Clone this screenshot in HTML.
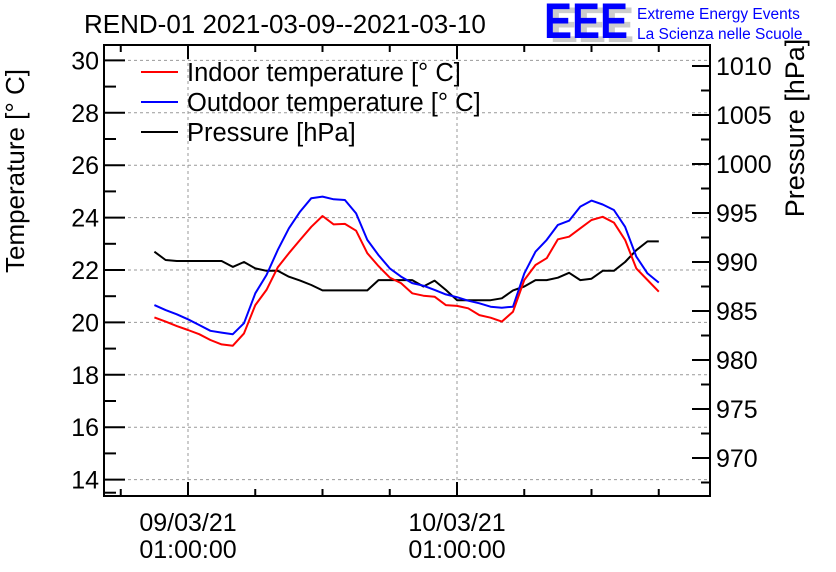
<!DOCTYPE html>
<html><head><meta charset="utf-8"><style>
body{margin:0;background:#fff;}
svg{display:block;font-family:"Liberation Sans",sans-serif;}
</style></head><body>
<svg id="chart" width="836" height="572" viewBox="0 0 836 572" xmlns="http://www.w3.org/2000/svg">
<text x="84" y="33" font-size="26">REND-01 2021-03-09--2021-03-10</text>
<g>
<text x="550" y="42" font-size="50" font-weight="bold" fill="#ccc" textLength="84" lengthAdjust="spacingAndGlyphs">EEE</text>
<text x="544" y="38" font-size="50" font-weight="bold" fill="#0000ff" textLength="84" lengthAdjust="spacingAndGlyphs">EEE</text>
<text x="637" y="19" font-size="15.5" fill="#0000ff">Extreme Energy Events</text>
<text x="637" y="39" font-size="15.5" fill="#0000ff">La Scienza nelle Scuole</text>
</g>
<text transform="translate(24,171) rotate(-90)" text-anchor="middle" font-size="26">Temperature [° C]</text>
<text transform="translate(804,128) rotate(-90)" text-anchor="middle" font-size="27">Pressure [hPa]</text>
<g id="grid"></g>
<g id="axes"></g>
<g id="series"></g>
<g>
<g><line x1="141" y1="72" x2="178" y2="72" stroke="#ff0000" stroke-width="2"/><text x="187" y="81" font-size="25.5">Indoor temperature [° C]</text></g>
<g><line x1="141" y1="102" x2="178" y2="102" stroke="#0000ff" stroke-width="2"/><text x="187" y="111" font-size="25.5">Outdoor temperature [° C]</text></g>
<g><line x1="141" y1="132" x2="178" y2="132" stroke="#000" stroke-width="2"/><text x="187" y="141" font-size="25.5">Pressure [hPa]</text></g>
</g>
</svg>
<script>
const hours = [-2,-1,0,1,2,3,4,5,6,7,8,9,10,11,12,13,14,15,16,17,18,19,20,21,22,23,24,25,26,27,28,29,30,31,32,33,34,35,36,37,38,39,40,41,42,43];
const indoor = [20.19,20.03,19.86,19.71,19.55,19.33,19.16,19.11,19.58,20.66,21.24,22.10,22.64,23.15,23.65,24.06,23.74,23.76,23.5,22.64,22.15,21.71,21.5,21.11,21.02,20.98,20.66,20.63,20.54,20.28,20.18,20.03,20.41,21.62,22.19,22.45,23.17,23.27,23.59,23.91,24.03,23.81,23.15,22.06,21.62,21.17];
const outdoor = [20.66,20.47,20.31,20.12,19.90,19.68,19.61,19.55,19.97,21.11,21.81,22.76,23.59,24.23,24.74,24.80,24.70,24.67,24.16,23.15,22.57,22.06,21.75,21.5,21.4,21.24,21.07,20.96,20.83,20.73,20.60,20.56,20.60,21.87,22.70,23.15,23.72,23.88,24.42,24.65,24.5,24.29,23.65,22.51,21.87,21.52];
const pressure = [991.05,990.2,990.1,990.1,990.1,990.1,990.1,989.5,990.0,989.35,989.1,989.1,988.5,988.1,987.65,987.1,987.1,987.1,987.1,987.1,988.15,988.15,988.15,988.15,987.5,988.1,987.15,986.1,986.1,986.1,986.1,986.3,987.1,987.5,988.15,988.15,988.4,988.9,988.15,988.3,989.1,989.1,990.0,991.2,992.1,992.1];
const tempTicks = [14,16,18,20,22,24,26,28,30];
const presTicks = [970,975,980,985,990,995,1000,1005,1010];
const xTickLabels = [["09/03/21","01:00:00"],["10/03/21","01:00:00"]];
const xMajorHours = [1,25];

const L=104,R=710,T=45,B=496;
const sx = h => 188 + (h-1)*269/24;
const sy = t => 270 - (t-22)*26.2;
const sp = p => 262 - (p-990)*9.8;
const NS="http://www.w3.org/2000/svg";
function mk(tag, attrs, parent){const e=document.createElementNS(NS,tag);for(const k in attrs)e.setAttribute(k,attrs[k]);parent.appendChild(e);return e;}
const grid=document.getElementById('grid'), axes=document.getElementById('axes'), series=document.getElementById('series');

tempTicks.forEach(t=>{const y=sy(t);
 const g=mk('line',{x1:L,x2:R,y1:y,y2:y,stroke:'#999','stroke-dasharray':'3,3','stroke-width':1},grid);
 
 
 const tk=mk('line',{x1:L,x2:L+21,y1:y,y2:y,stroke:'#000','stroke-width':2},axes);
 
 
 const tx=mk('text',{x:L-5,y:y+9,'text-anchor':'end','font-size':25},axes);
 
 
 tx.textContent=t;
});
for(let t=15;t<=30.5;t+=2){ const y=sy(t);
 const tk=mk('line',{x1:L,x2:L+12,y1:y,y2:y,stroke:'#000','stroke-width':2},axes);
 
 
}
{const tk=mk('line',{x1:L,x2:L+12,y1:sy(13.5),y2:sy(13.5),stroke:'#000','stroke-width':2},axes);
 
 }
presTicks.forEach(p=>{const y=sp(p);
 const tk=mk('line',{x1:R-18,x2:R,y1:y,y2:y,stroke:'#000','stroke-width':2},axes);
 
 
 const tx=mk('text',{x:R+6,y:y+9,'font-size':25},axes);
 
 
 tx.textContent=p;
});
for(let p=967.5;p<=1010;p+=5){const y=sp(p);
 const tk=mk('line',{x1:R-9,x2:R,y1:y,y2:y,stroke:'#000','stroke-width':2},axes);
 
 
}
xMajorHours.forEach((h,i)=>{const x=sx(h);
 const g=mk('line',{x1:x,x2:x,y1:T,y2:B,stroke:'#999','stroke-dasharray':'3,3','stroke-width':1},grid);
 
 
 const tx=mk('text',{x:x,y:531,'text-anchor':'middle','font-size':25},axes);
 
 
 tx.textContent=xTickLabels[i][0];
 const tx2=mk('text',{x:x,y:558,'text-anchor':'middle','font-size':25},axes);
 
 
 tx2.textContent=xTickLabels[i][1];
});
for(let h=-5;h<=47;h+=6){const x=sx(h); if(x<L||x>R) continue; const major=xMajorHours.includes(h);
 const len=major?14:7;
 const tk=mk('line',{x1:x,x2:x,y1:B,y2:B-len,stroke:'#000','stroke-width':2},axes);
 
 
 const tt=mk('line',{x1:x,x2:x,y1:T,y2:T+len,stroke:'#000','stroke-width':2},axes);
 
 
}
const frame=mk('rect',{x:L,y:T,width:R-L,height:B-T,fill:'none',stroke:'#000','stroke-width':2},axes);



function line(vals, f, color, name){
 const d=vals.map((v,i)=>(i?'L':'M')+sx(hours[i]).toFixed(1)+','+f(v).toFixed(1)).join('');
 const p=mk('path',{d:d,fill:'none',stroke:color,'stroke-width':2,'stroke-linejoin':'round'},series);
 
 
}
line(pressure, sp, '#000', 'pressure-line');
line(outdoor, sy, '#0000ff', 'outdoor-temperature-line');
line(indoor, sy, '#ff0000', 'indoor-temperature-line');
</script>
</body></html>
